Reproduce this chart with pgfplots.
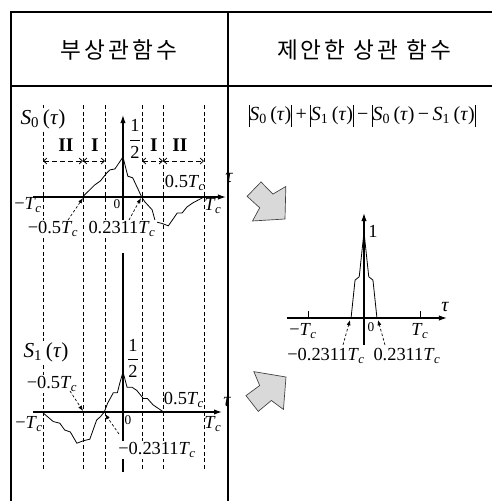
\documentclass[border=0pt]{standalone}
\usepackage{amsmath}
\usepackage{pgfplots}
\pgfplotsset{compat=1.18}
\usepackage{fontspec}
\setmainfont{Liberation Serif}
\newfontfamily\kr[LetterSpace=13]{Noto Sans CJK KR}
\usetikzlibrary{arrows.meta}

\newcommand{\Tc}{\textit{T}\textsubscript{\kern-0.5pt\textit{c}}}
\newcommand{\Sx}[1]{\textit{S}\textsubscript{#1}\,(\textit{τ})}
\newcommand{\vb}{\rule[-4.5pt]{0.6pt}{16pt}}

% S_0(tau): auto-correlation side
\pgfplotstableread{
x      y
-1     0
-0.5   0
-0.35  0.15
-0.28  0.20
-0.20  0.30
-0.16  0.34
-0.10  0.35
-0.06  0.41
0      0.50
0.06   0.26
0.12   0.24
0.2311 0
0.27  -0.06
0.36  -0.16
0.40  -0.31
0.48  -0.33
0.56  -0.36
0.67  -0.20
0.73  -0.20
0.79  -0.125
0.86  -0.075
1      0
}\Szero

% S_1(tau)
\pgfplotstableread{
x      y
-1     0
-0.86 -0.12
-0.78 -0.14
-0.72 -0.225
-0.65 -0.25
-0.57 -0.39
-0.49 -0.36
-0.41 -0.34
-0.325 -0.10
-0.28 -0.06
-0.2311 0
-0.19  0.11
-0.12  0.24
-0.07  0.24
-0.04  0.36
0      0.50
0.05   0.31
0.11   0.31
0.17   0.27
0.25   0.17
0.30   0.17
0.37   0.09
0.5    0
1      0
}\Sone

% |S0|+|S1|-|S0-S1|
\pgfplotstableread{
x      y
-1     0
-0.2311 0
-0.16  0.44
-0.085 0.48
0      1
0.085  0.48
0.16   0.44
0.2311 0
1      0
}\Scomb

\begin{document}
\begin{tikzpicture}[x=0.75pt,y=0.75pt,
  lbl/.style={font=\fontsize{13.8}{15}\selectfont, inner sep=0.8pt},
  wlbl/.style={lbl, fill=white},
  slbl/.style={font=\fontsize{16}{18}\selectfont, inner sep=0.8pt, fill=white},
  small/.style={font=\fontsize{10}{11}\selectfont, inner sep=0.5pt},
  taul/.style={font=\fontsize{15}{17}\selectfont\itshape, inner sep=0.5pt},
  roman/.style={font=\fontsize{14.5}{16}\selectfont\bfseries, inner sep=0.5pt},
  vdash/.style={line width=0.6pt, dash pattern=on 3pt off 2pt},
  ptr/.style={line width=0.5pt, dash pattern=on 2pt off 1.5pt, -{Latex[length=4pt,width=3pt]}},
  span/.style={line width=0.6pt, dash pattern=on 3.5pt off 2.5pt,
    {Straight Barb[length=2.5pt,width=4.5pt]}-{Straight Barb[length=2.5pt,width=4.5pt]}},
  garrow/.style={fill=gray!30, draw=black!75, line width=0.5pt, line join=miter},
]
\useasboundingbox (0,0) rectangle (492,-501);

% table frame
\draw[line width=1.1pt] (10,-86) -- (492,-86);
\draw[line width=1.1pt] (228,-12) -- (228,-501);
\draw[line width=2.2pt] (11,-11) -- (11,-501);
\draw[line width=2.2pt] (10,-12) -- (492,-12);

% headers
\node[font=\kr\fontsize{17}{19}\selectfont] at (119,-50) {부상관함수};
\node[font=\kr\fontsize{17}{19}\selectfont] at (364,-50) {제안한 상관 함수};

% region boundaries
\foreach \xx in {43,83,105,142,163,204}
  \draw[vdash] (\xx,-105) -- (\xx,-471);

\pgfplotsset{
  sig/.style={
    scale only axis, axis lines*=middle, clip=false,
    xtick=\empty, ytick=\empty,
    axis line style={line width=0.9pt},
    x axis line style={-{Latex[length=6pt,width=4pt]}},
  },
}

% S_0
\begin{axis}[sig, at={(24.75pt,-171pt)}, anchor=south west,
  width=144.75pt, height=84.75pt,
  xmin=-1.111, xmax=1.272, ymin=-0.3875, ymax=1.025,
  y axis line style={-{Latex[length=6pt,width=4pt]}}]
  \addplot[black, line width=0.6pt] table[x=x,y=y] {\Szero};
\end{axis}

% S_1
\begin{axis}[sig, at={(24.75pt,-354pt)}, anchor=south west,
  width=141.75pt, height=164.25pt,
  xmin=-1.111, xmax=1.222, ymin=-0.75, ymax=1.9875,
  y axis line style={-}]
  \addplot[black, line width=0.6pt] table[x=x,y=y] {\Sone};
\end{axis}

% combined
\begin{axis}[sig, at={(215.25pt,-258.75pt)}, anchor=south west,
  width=120pt, height=99pt,
  xmin=-1.375, xmax=1.482, ymin=-0.314, ymax=1.221,
  xtick={-1,1}, xticklabels={}, major tick length=5pt,
  tick style={line width=0.7pt, black},
  y axis line style={-{Latex[length=6pt,width=4pt]}}]
  \addplot[black, line width=0.6pt] table[x=x,y=y] {\Scomb};
\end{axis}

% S_0 annotations
\node[slbl] at (43,-119) {\Sx{0}};
\node[roman] at (66,-145) {II};
\node[roman] at (95,-145) {I};
\node[roman] at (154,-145) {I};
\node[roman] at (180,-145) {II};
\node[lbl] at (135,-139) {$\dfrac{\text{1}}{\text{2}}$};
\draw[span] (43,-161) -- (83,-161);
\draw[span] (83,-161) -- (105,-161);
\draw[span] (142,-161) -- (163,-161);
\draw[span] (163,-161) -- (204,-161);
\node[lbl] at (185,-183) {0.5\Tc};
\node[taul] at (229,-178) {τ};
\node[lbl] at (28,-205) {−\Tc};
\node[lbl] at (213,-206) {\Tc};
\node[small] at (117,-204) {0};
\node[wlbl] at (53,-229) {−0.5\Tc};
\node[wlbl] at (122,-229) {0.2311\Tc};
\draw[ptr] (68,-220) -- (83,-198);
\draw[ptr] (129,-220) -- (141,-198);

% S_1 annotations
\node[slbl] at (46,-352) {\Sx{1}};
\node[lbl] at (133,-358) {$\dfrac{\text{1}}{\text{2}}$};
\node[wlbl] at (52,-384) {−0.5\Tc};
\draw[ptr] (70,-391) -- (83,-411);
\node[lbl] at (184,-400) {0.5\Tc};
\node[taul] at (227,-402) {τ};
\node[lbl] at (29,-424) {−\Tc};
\node[lbl] at (213,-424) {\Tc};
\node[small] at (128,-420) {0};
\node[wlbl] at (157,-450) {−0.2311\Tc};
\draw[ptr] (119,-434) -- (105,-414);

% combined function annotations
\node[font=\fontsize{15}{17}\selectfont, inner sep=0.8pt] at (362,-116)
  {\vb\Sx{0}\vb\,+\,\vb\Sx{1}\vb\,−\,\vb\Sx{0}\,−\,\Sx{1}\vb};
\node[lbl] at (373,-231) {1};
\node[taul] at (445,-307) {τ};
\node[lbl] at (303,-331) {−\Tc};
\node[lbl] at (420,-331) {\Tc};
\node[small] at (371,-327) {0};
\node[wlbl] at (326,-356) {−0.2311\Tc};
\node[wlbl] at (407,-356) {0.2311\Tc};
\draw[ptr] (343,-345) -- (350,-320);
\draw[ptr] (385,-345) -- (378,-320);

% block arrows
\filldraw[garrow, shift={(285,-219)}, rotate=-44]
  (0,0) -- (-22,24) -- (-26,9.5) -- (-43,10) -- (-43,-10) -- (-26,-9.5) -- (-22,-24) -- cycle;
\filldraw[garrow, shift={(286,-377)}, rotate=38]
  (0,0) -- (-22,24) -- (-26,9.5) -- (-43,10) -- (-43,-10) -- (-26,-9.5) -- (-22,-24) -- cycle;
\end{tikzpicture}
\end{document}
